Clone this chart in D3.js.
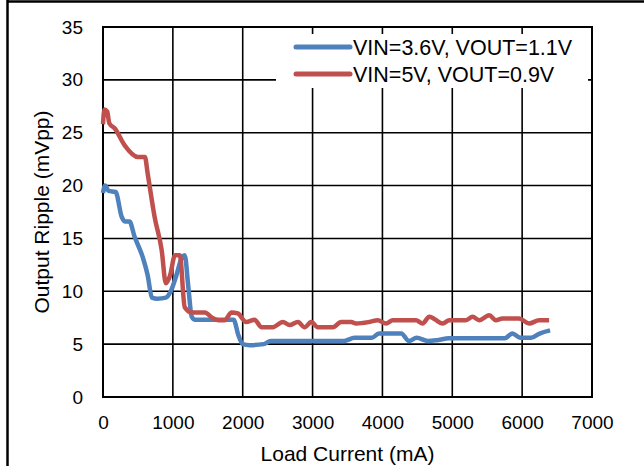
<!DOCTYPE html>
<html>
<head>
<meta charset="utf-8">
<script src="https://cdn.jsdelivr.net/npm/d3@7"></script>
<style>
  body { margin: 0; background: #fff; }
  text { font-family: "Liberation Sans", Arial, sans-serif; }
</style>
</head>
<body>
<div id="my_dataviz"></div>
<script>
var xTicks = [0, 1000, 2000, 3000, 4000, 5000, 6000, 7000];
var yTicks = [0, 5, 10, 15, 20, 25, 30, 35];
var seriesNames = ["VIN=3.6V, VOUT=1.1V", "VIN=5V, VOUT=0.9V"];
var seriesColors = ["#4F81BD", "#C0504D"];

// load current (mA), ripple (mVpp)
var blueLoad = [0, 30, 80, 180, 270, 320, 380, 450, 570, 640, 700, 780, 900, 970, 1050, 1130, 1170, 1220, 1270, 1320, 1500, 1870, 1940, 2000, 2100, 2300, 2400, 3450, 3600, 3850, 3950, 4270, 4380, 4490, 4650, 4800, 4950, 5750, 5860, 5980, 6130, 6250, 6400];
var blueRipple = [19.3, 20.0, 19.5, 19.4, 17.0, 16.6, 16.6, 15.2, 13.2, 11.5, 9.4, 9.3, 9.4, 10.0, 11.5, 13.2, 13.4, 10.5, 7.6, 7.3, 7.3, 7.3, 5.8, 5.0, 4.9, 5.0, 5.3, 5.3, 5.6, 5.6, 6.0, 6.0, 5.3, 5.6, 5.3, 5.4, 5.55, 5.55, 6.0, 5.6, 5.6, 6.0, 6.3];

var redLoad = [0, 20, 60, 90, 170, 310, 500, 600, 640, 740, 840, 900, 960, 1030, 1100, 1170, 1270, 1460, 1560, 1650, 1740, 1840, 1930, 2050, 2170, 2270, 2430, 2576, 2671, 2790, 2886, 2981, 3076, 3290, 3410, 3552, 3624, 3814, 3933, 4052, 4148, 4481, 4576, 4671, 4862, 4957, 5195, 5290, 5386, 5529, 5624, 5719, 5957, 6100, 6243, 6386];
var redRipple = [25.8, 27.2, 27.0, 25.9, 25.4, 23.8, 22.7, 22.7, 21.1, 17.0, 13.9, 10.75, 11.5, 13.4, 13.4, 8.5, 8.0, 8.0, 7.5, 7.26, 7.26, 8.0, 7.9, 7.1, 7.3, 6.6, 6.6, 7.1, 6.8, 7.1, 6.6, 7.1, 6.6, 6.6, 7.1, 7.1, 6.95, 7.1, 7.26, 6.95, 7.26, 7.26, 6.95, 7.6, 6.95, 7.26, 7.26, 7.58, 7.26, 7.74, 7.26, 7.42, 7.42, 6.95, 7.26, 7.26];

var W = 644, H = 466;
var margin = { top: 27, right: 52, bottom: 69, left: 103 },
    width = W - margin.left - margin.right,
    height = H - margin.top - margin.bottom;

var root = d3.select("#my_dataviz")
    .append("svg")
    .attr("width", W)
    .attr("height", H);

// outer frame (only top and left edges show)
root.append("line").attr("x1", 7).attr("x2", W).attr("y1", 1.5).attr("y2", 1.5)
    .style("stroke", "#000").style("stroke-width", 2.5);
root.append("line").attr("x1", 7.5).attr("x2", 7.5).attr("y1", 0).attr("y2", H)
    .style("stroke", "#000").style("stroke-width", 2.5);

var svg = root.append("g")
    .attr("transform", "translate(" + margin.left + "," + margin.top + ")");

var x = d3.scaleLinear().domain([0, 7000]).range([0, width]);
var y = d3.scaleLinear().domain([0, 35]).range([height, 0]);

// grid
svg.append("g")
    .selectAll("line")
    .data(xTicks)
    .enter()
    .append("line")
    .attr("x1", function(d) { return x(d) })
    .attr("x2", function(d) { return x(d) })
    .attr("y1", 0)
    .attr("y2", height)
    .style("stroke", "#000")
    .style("stroke-width", 1.6);
svg.append("g")
    .selectAll("line")
    .data(yTicks)
    .enter()
    .append("line")
    .attr("x1", 0)
    .attr("x2", width)
    .attr("y1", function(d) { return y(d) })
    .attr("y2", function(d) { return y(d) })
    .style("stroke", "#000")
    .style("stroke-width", 1.6);
svg.append("rect")
    .attr("width", width)
    .attr("height", height)
    .style("fill", "none")
    .style("stroke", "#000")
    .style("stroke-width", 2);

// axes labels
svg.append("g")
    .attr("transform", "translate(0," + height + ")")
    .style("font-size", "19px")
    .call(d3.axisBottom(x).tickValues(xTicks).tickSize(0).tickPadding(19).tickFormat(d3.format("d")))
    .call(function(g) { g.select(".domain").remove() })
    .selectAll("text").style("fill", "#000").style("font-family", "Liberation Sans, Arial, sans-serif");
svg.append("g")
    .style("font-size", "19px")
    .call(d3.axisLeft(y).tickValues(yTicks).tickSize(0).tickPadding(20))
    .call(function(g) { g.select(".domain").remove() })
    .selectAll("text").style("fill", "#000").style("font-family", "Liberation Sans, Arial, sans-serif");

root.append("text")
    .attr("x", margin.left + width / 2)
    .attr("y", 461)
    .attr("text-anchor", "middle")
    .style("font-size", "21px")
    .text("Load Current (mA)");
root.append("text")
    .attr("transform", "translate(49," + (margin.top + height / 2) + ") rotate(-90)")
    .attr("text-anchor", "middle")
    .style("font-size", "21px")
    .text("Output Ripple (mVpp)");

// series
var line = d3.line()
    .x(function(d) { return x(d[0]) })
    .y(function(d) { return y(d[1]) })
    .curve(d3.curveMonotoneX);

var series = [
    d3.zip(blueLoad, blueRipple),
    d3.zip(redLoad, redRipple)
];

svg.selectAll(".series")
    .data(series)
    .enter()
    .append("path")
    .attr("class", "series")
    .attr("d", line)
    .style("fill", "none")
    .style("stroke", function(d, i) { return seriesColors[i] })
    .style("stroke-width", 4.5)
    .style("stroke-linejoin", "round")
    .style("stroke-linecap", "butt");

// legend
var legend = root.append("g");
legend.append("rect")
    .attr("x", 276)
    .attr("y", 34)
    .attr("width", 312)
    .attr("height", 54)
    .style("fill", "#fff");
var items = legend.selectAll(".item")
    .data(seriesNames)
    .enter()
    .append("g")
    .attr("class", "item")
    .attr("transform", function(d, i) { return "translate(296," + (47 + i * 27) + ")" });
items.append("line")
    .attr("x1", 0)
    .attr("x2", 54)
    .style("stroke", function(d, i) { return seriesColors[i] })
    .style("stroke-width", 5)
    .style("stroke-linecap", "round");
items.append("text")
    .attr("x", 57)
    .attr("dy", "0.36em")
    .style("font-size", "21.5px")
    .text(function(d) { return d });
</script>
</body>
</html>
